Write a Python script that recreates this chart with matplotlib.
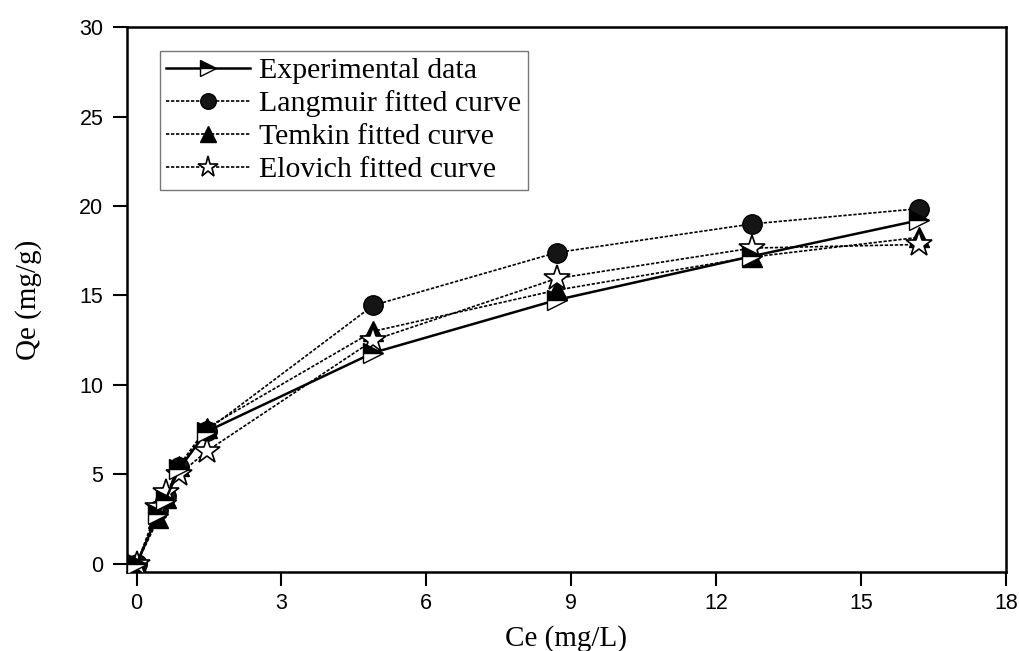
import matplotlib
matplotlib.use("Agg")
import matplotlib.pyplot as plt

ce = [0, 0.45, 0.6, 0.88, 1.45, 4.9, 8.7, 12.75, 16.2]
qe_exp = [0, 2.8, 3.6, 5.3, 7.4, 11.8, 14.75, 17.2, 19.2]
qe_langmuir = [0, 3.0, 3.8, 5.4, 7.45, 14.45, 17.4, 19.0, 19.85]
qe_temkin = [0, 2.55, 3.7, 5.5, 7.6, 13.0, 15.3, 17.15, 18.25]
qe_elovich = [0, 3.2, 4.0, 5.0, 6.3, 12.5, 15.95, 17.65, 17.85]

labels = ["Experimental data", "Langmuir fitted curve",
          "Temkin fitted curve", "Elovich fitted curve"]
xticks = [0, 3, 6, 9, 12, 15, 18]
yticks = [0, 5, 10, 15, 20, 25, 30]

fig = plt.figure(figsize=(10.19, 6.51), dpi=100)
ax = fig.add_axes([0.1246, 0.1213, 0.8624, 0.8372])

dot = (0, (2.0, 1.0))
ax.plot(ce, qe_langmuir, linestyle=dot, color="black", lw=1.2,
        marker="o", ms=14, mfc="#151515", mec="black", mew=1.0,
        label=labels[1], zorder=3)
ax.plot(ce, qe_temkin, linestyle=dot, color="black", lw=1.2,
        marker="^", ms=15, mfc="black", mec="black", mew=1.0,
        label=labels[2], zorder=4)
ax.plot(ce, qe_elovich, linestyle=dot, color="black", lw=1.2,
        marker="*", ms=19, mfc="white", mec="black", mew=1.2,
        label=labels[3], zorder=5)
ax.plot(ce, qe_exp, linestyle="-", color="black", lw=1.8,
        marker=">", ms=15, fillstyle="top", mfc="black",
        markerfacecoloralt="white", mec="black", mew=1.0,
        label=labels[0], zorder=6)

ax.set_xlim(-0.2, 18)
ax.set_ylim(-0.45, 30)
ax.set_xticks(xticks)
ax.set_yticks(yticks)
ax.set_xticklabels([str(t) for t in xticks], family="Liberation Sans", fontsize=15.5)
ax.set_yticklabels([str(t) for t in yticks], family="Liberation Sans", fontsize=15.5)
ax.tick_params(direction="out", length=10, width=1.5, top=False, right=False)
ax.tick_params(axis="x", pad=5)
ax.tick_params(axis="y", pad=7)
for s in ax.spines.values():
    s.set_linewidth(1.8)

ax.set_xlabel("Ce (mg/L)", family="Liberation Serif", fontsize=21, labelpad=8)
ax.set_ylabel("Qe (mg/g)", family="Liberation Serif", fontsize=21, labelpad=27)

handles, labs = ax.get_legend_handles_labels()
order = [3, 0, 1, 2]
leg = ax.legend([handles[i] for i in order], [labs[i] for i in order],
                loc="upper left", bbox_to_anchor=(0.0375, 0.956),
                prop={"family": "Liberation Serif", "size": 21.5},
                frameon=True, fancybox=False, edgecolor="#555555",
                markerscale=0.8,
                handlelength=2.8, handletextpad=0.3, labelspacing=0.2,
                borderpad=0.22, borderaxespad=0.0)
leg.get_frame().set_linewidth(1.0)

fig.savefig("out.png", dpi=100)
